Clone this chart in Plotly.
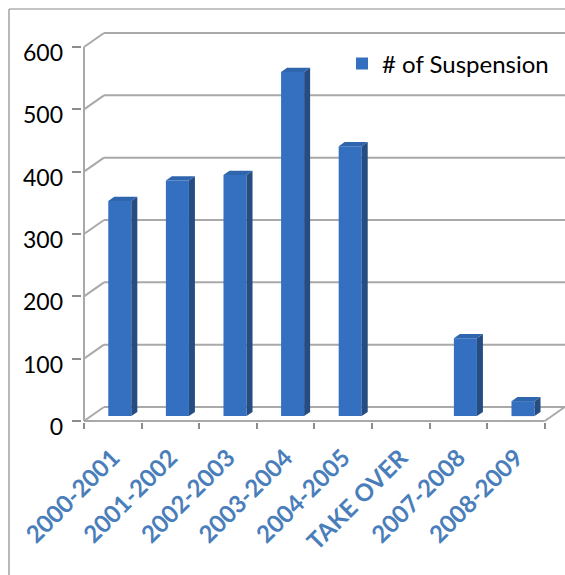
import plotly.graph_objects as go

# ---------------- data ----------------
categories = ["2000-2001", "2001-2002", "2002-2003", "2003-2004",
              "2004-2005", "TAKE OVER", "2007-2008", "2008-2009"]
suspensions = [345, 378, 387, 552, 433, 0, 125, 24]
y_ticks = [0, 100, 200, 300, 400, 500, 600]
series_name = "# of Suspension"

# ---------------- geometry / style ----------------
W, H = 565, 575
PX_PER_CAT = 57.6          # pixels per category slot
PX_PER_VAL = 0.6233        # pixels per value unit
L_PX, B_PX, T_PX = 82, 436, 22
ZERO_PX = 421
DEPTH_DX = 20 / PX_PER_CAT   # 3-D depth offset (x, category units)
DEPTH_DY = 14 / PX_PER_VAL   # 3-D depth offset (y, value units)
BAR_W = 0.4
BAR_D0, BAR_D1 = 0.35, 0.65  # bar's depth span (fraction of floor depth)
LABEL_SHIFT = 6 / PX_PER_VAL  # y-labels sit slightly below their ticks

x0 = -0.5 - (84 - L_PX) / PX_PER_CAT
x1 = x0 + (W - L_PX) / PX_PER_CAT
y0 = -(B_PX - ZERO_PX) / PX_PER_VAL
y1 = y0 + (B_PX - T_PX) / PX_PER_VAL
pw, ph = W - L_PX, B_PX - T_PX
XAXIS_POS = (B_PX - ZERO_PX - 1) / ph

GRID = "#a9a9a9"
TICK = "#8c8c8c"
FRONT = "#3470bf"
SIDE = "#254d82"
TOP = "#2f65ad"
LABEL_BLUE = "#4a7ebb"

idx = list(range(len(categories)))
n = len(categories)
base = BAR_D0 * DEPTH_DY
bd = BAR_D1 - BAR_D0
ddx, ddy = bd * DEPTH_DX, bd * DEPTH_DY

# side and top faces derived from the data (drawn on the overlay axis y2,
# which is the same scale shifted by LABEL_SHIFT)
S = LABEL_SHIFT
xs_side, ys_side, xs_top, ys_top = [], [], [], []
for i, v in zip(idx, suspensions):
    if v <= 0:
        continue
    xl = i - BAR_W / 2 + BAR_D0 * DEPTH_DX
    xr = xl + BAR_W
    yb, yt = base + S, base + v + S
    xs_side += [xr, xr, xr + ddx, xr + ddx, xr, None]
    ys_side += [yb, yt, yt + ddy, yb + ddy, yb, None]
    xs_top += [xl, xr, xr + ddx, xl + ddx, xl, None]
    ys_top += [yt, yt, yt + ddy, yt + ddy, yt, None]

fig = go.Figure()
fig.add_trace(go.Bar(
    x=[i + BAR_D0 * DEPTH_DX for i in idx], y=suspensions, base=base,
    width=BAR_W, name=series_name,
    marker=dict(color=FRONT, line=dict(width=0)),
    hoverinfo="skip",
))
fig.add_trace(go.Scatter(x=xs_side, y=ys_side, yaxis="y2", mode="lines", fill="toself",
                         fillcolor=SIDE, line=dict(width=0, color=SIDE),
                         showlegend=False, hoverinfo="skip"))
fig.add_trace(go.Scatter(x=xs_top, y=ys_top, yaxis="y2", mode="lines", fill="toself",
                         fillcolor=TOP, line=dict(width=0, color=TOP),
                         showlegend=False, hoverinfo="skip"))

# walls / floor / gridlines (behind bars)
shapes = []
left = -0.5
right_front = n - 0.5
for t in y_ticks:
    shapes.append(dict(type="line", xref="x", yref="y", layer="below",
                       x0=left + DEPTH_DX, y0=t + DEPTH_DY, x1=x1, y1=t + DEPTH_DY,
                       line=dict(color=GRID, width=2)))
    shapes.append(dict(type="line", xref="x", yref="y", layer="below",
                       x0=left, y0=t, x1=left + DEPTH_DX, y1=t + DEPTH_DY,
                       line=dict(color=GRID, width=2)))
shapes.append(dict(type="line", xref="x", yref="y", layer="below",
                   x0=right_front, y0=0, x1=right_front + DEPTH_DX, y1=DEPTH_DY,
                   line=dict(color=GRID, width=2)))
shapes.append(dict(type="line", xref="x", yref="y", layer="below",
                   x0=left, y0=0, x1=right_front, y1=0,
                   line=dict(color=GRID, width=2)))
shapes.append(dict(type="line", xref="x", yref="y", layer="below",
                   x0=left, y0=0, x1=left, y1=max(y_ticks),
                   line=dict(color=GRID, width=2)))
# outer frame
fx = (9 - L_PX) / pw
fy_top = (B_PX - 9) / ph
fy_bot = (B_PX - H - 5) / ph
shapes.append(dict(type="line", xref="paper", yref="paper", x0=fx, y0=fy_top,
                   x1=1.05, y1=fy_top, line=dict(color="#8a8a8a", width=1.2)))
shapes.append(dict(type="line", xref="paper", yref="paper", x0=fx, y0=fy_top,
                   x1=fx, y1=fy_bot, line=dict(color="#8a8a8a", width=1.2)))

fig.update_layout(
    width=W, height=H,
    margin=dict(l=L_PX, r=0, t=T_PX, b=H - B_PX, pad=0),
    paper_bgcolor="white", plot_bgcolor="white",
    shapes=shapes,
    showlegend=True,
    legend=dict(x=(342 - L_PX) / pw, y=(B_PX - 64) / ph, xanchor="left",
                yanchor="middle", font=dict(family="Lato", size=24, color="black"),
                bgcolor="rgba(0,0,0,0)"),
    xaxis=dict(range=[x0, x1], showgrid=False, zeroline=False, showline=False,
               anchor="free", position=XAXIS_POS,
               tickmode="array", tickvals=idx, ticktext=categories, ticks="",
               tickangle=-45, ticklabelstandoff=16,
               tickfont=dict(family="Lato", size=24, color=LABEL_BLUE, weight="bold"),
               minor=dict(tickmode="array", tickvals=[i - 0.5 for i in range(n + 1)],
                          ticks="outside", ticklen=6, tickcolor=TICK, tickwidth=1.5,
                          showgrid=False)),
    yaxis=dict(range=[y0, y1], showgrid=False, zeroline=False, showline=False,
               tickmode="array", tickvals=y_ticks, ticks="outside", ticklen=9,
               tickcolor=TICK, tickwidth=1.5, showticklabels=False),
    yaxis2=dict(overlaying="y", side="left", range=[y0 + S, y1 + S],
                showgrid=False, zeroline=False, showline=False,
                tickmode="array", tickvals=y_ticks, ticks="",
                ticklabelstandoff=18,
                tickfont=dict(family="Lato", size=23, color="black")),
)

fig.write_html("out.html")
